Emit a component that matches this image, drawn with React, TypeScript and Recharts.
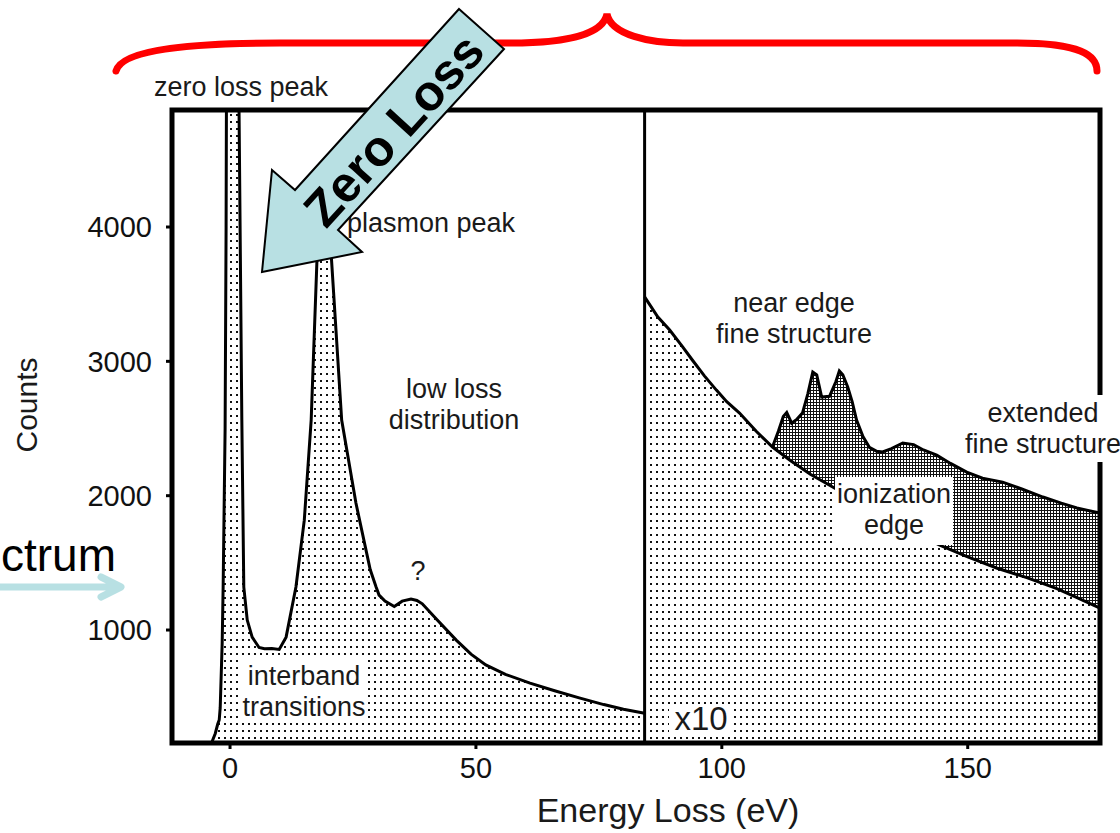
import React from "react";
import {
  ComposedChart,
  Area,
  XAxis,
  YAxis,
  ReferenceLine,
  ReferenceArea,
} from "recharts";

// low loss part (raw counts)
const lowLossEnergy = [
  -11.8, -6, -4, -3.7, -3, -2.5, -2.2, -2, -1.6, -1.4, -1, -0.8, -0.5, 0, 1.5,
  1.8, 2.4, 2.8, 3.5, 4.5, 5.9, 7, 8.5, 10, 11.4, 13.4, 15.1, 16.5, 17.7, 19.3,
  20.6, 22.7, 25.6, 28.5, 29.7, 30.3, 31.5, 33.4, 35, 36.8, 38, 39.1, 42, 46,
  49, 52, 56, 61, 66, 71, 76, 80, 84.3,
];
const lowLossCounts = [
  150, 150, 155, 165, 230, 300, 330, 420, 900, 1320, 2500, 4000, 8000, 12000,
  8000, 5000, 2563, 1320, 1074, 947, 870, 860, 862, 855, 947, 1320, 1818, 2563,
  3777, 4200, 3777, 2563, 1945, 1450, 1320, 1260, 1215, 1175, 1215, 1230, 1220,
  1195, 1080, 925, 820, 740, 670, 605, 548, 495, 445, 410, 381,
];

// x10 part: background under the edge
const backgroundEnergy = [
  84.3, 87, 89.4, 92, 94, 96.5, 98.9, 101, 103.6, 107, 110.3, 114, 118, 122.9,
  127, 132, 137, 144.3, 150, 156, 162, 168, 172, 176.9,
];
const backgroundCounts = [
  3480, 3330, 3233, 3110, 3010, 2890, 2786, 2700, 2615, 2480, 2362, 2260, 2160,
  2057, 1970, 1870, 1770, 1632, 1545, 1460, 1390, 1310, 1245, 1163,
];

// x10 part: ionization edge (total signal)
const edgeEnergy = [
  110.3, 111.5, 112.5, 113.2, 114.2, 115.3, 116.4, 117.5, 118.5, 119.3, 120.3,
  121.9, 123.2, 123.9, 124.6, 125.6, 126.5, 127.4, 128.7, 130, 131.5, 132.7,
  134.5, 136.8, 139, 141, 143.7, 146.5, 149.8, 153, 157.1, 161, 165.3, 169,
  172.2, 176.9,
];
const edgeCounts = [
  2362, 2480, 2590, 2620, 2540, 2570, 2615, 2760, 2920, 2900, 2734, 2740, 2850,
  2928, 2900, 2809, 2700, 2563, 2440, 2360, 2330, 2325, 2350, 2392, 2380, 2340,
  2302, 2240, 2176, 2130, 2101, 2050, 1990, 1945, 1908, 1870,
];

const xTicks = [0, 50, 100, 150];
const yTicks = [1000, 2000, 3000, 4000];
const xDomain = [-11.8, 176.9];
const yDomain = [159, 4871];
const splitAt = 84.3;

const toRows = (es: number[], cs: number[]) => es.map((e, i) => ({ e, c: cs[i] }));
const lowLoss = toRows(lowLossEnergy, lowLossCounts);
const background = toRows(backgroundEnergy, backgroundCounts);
const edge = toRows(edgeEnergy, edgeCounts);

const FONT = '"Liberation Sans", Arial, Helvetica, sans-serif';
const INK = "#1a1a1a";

const Note = ({ x, y, lines, size = 27 }: { x: number; y: number; lines: string[]; size?: number }) => (
  <text x={x} y={y} textAnchor="middle" fontSize={size} fill={INK} fontFamily={FONT}>
    {lines.map((l, i) => (
      <tspan key={i} x={x} dy={i === 0 ? 0 : 31}>
        {l}
      </tspan>
    ))}
  </text>
);

const App: React.FC = () => {
  return (
    <div
      style={{
        position: "absolute",
        left: 0,
        top: 0,
        width: 1120,
        height: 833,
        background: "#fff",
        fontFamily: FONT,
        overflow: "hidden",
      }}
    >
      <ComposedChart
        width={1120}
        height={833}
        margin={{ top: 110, right: 20, bottom: 0, left: 0 }}
      >
        <defs>
          <pattern id="dots" width="6" height="7" patternUnits="userSpaceOnUse">
            <rect width="6" height="7" fill="#fff" />
            <rect x="2" y="2" width="2" height="2" fill="#111" />
          </pattern>
          <pattern id="hatch" width="3" height="3" patternUnits="userSpaceOnUse">
            <rect width="3" height="3" fill="#111" />
            <rect x="1" y="1" width="2" height="2" fill="#fff" />
          </pattern>
        </defs>
        <XAxis
          dataKey="e"
          type="number"
          domain={xDomain}
          allowDataOverflow
          ticks={xTicks}
          height={90}
          axisLine={false}
          tickLine={{ stroke: "#000", strokeWidth: 3 }}
          tickSize={6}
          tickMargin={8}
          tick={{ fontSize: 29, fill: "#111", fontFamily: FONT }}
        />
        <YAxis
          type="number"
          domain={yDomain}
          allowDataOverflow
          ticks={yTicks}
          width={172}
          axisLine={false}
          tickLine={{ stroke: "#000", strokeWidth: 3 }}
          tickSize={6}
          tickMargin={14}
          tick={{ fontSize: 29, fill: "#111", fontFamily: FONT }}
        />
        <Area
          data={lowLoss}
          dataKey="c"
          type="linear"
          stroke="#000"
          strokeWidth={3}
          fill="url(#dots)"
          fillOpacity={1}
          dot={false}
          activeDot={false}
          isAnimationActive={false}
        />
        <Area
          data={edge}
          dataKey="c"
          type="linear"
          stroke="#000"
          strokeWidth={3}
          fill="url(#hatch)"
          fillOpacity={1}
          dot={false}
          activeDot={false}
          isAnimationActive={false}
        />
        <Area
          data={background}
          dataKey="c"
          type="linear"
          stroke="#000"
          strokeWidth={3}
          fill="url(#dots)"
          fillOpacity={1}
          dot={false}
          activeDot={false}
          isAnimationActive={false}
        />
        <ReferenceLine x={splitAt} stroke="#000" strokeWidth={3} />
        <ReferenceArea
          x1={xDomain[0]}
          x2={xDomain[1]}
          y1={yDomain[0]}
          y2={yDomain[1]}
          fill="none"
          fillOpacity={0}
          stroke="#000"
          strokeWidth={5}
        />
      </ComposedChart>

      <svg
        width={1120}
        height={833}
        style={{ position: "absolute", left: 0, top: 0, pointerEvents: "none" }}
      >
        {/* red brace */}
        <path
          d="M116,71 C122,48 200,43 280,43 L511,43 C565,43 603,35 607,14 C611,35 650,43 683,43 L1017,43 C1080,43 1097,55 1097,71"
          fill="none"
          stroke="#ff0000"
          strokeWidth={7}
          strokeLinecap="round"
        />

        {/* label boxes */}
        <rect x={241} y={656} width={127} height={66} fill="#fff" />
        <rect x={835} y={477} width={118} height={68} fill="#fff" />
        <rect x={963} y={395} width={157} height={67} fill="#fff" />
        <rect x={669} y={705} width={62} height={31} fill="#fff" />

        <Note x={241} y={96} lines={["zero loss peak"]} />
        <Note x={431} y={232} lines={["plasmon peak"]} />
        <Note x={454} y={398} lines={["low loss", "distribution"]} size={27} />
        <Note x={418} y={580} lines={["?"]} />
        <Note x={304} y={685} lines={["interband", "transitions"]} />
        <Note x={794} y={312} lines={["near edge", "fine structure"]} />
        <Note x={894} y={503} lines={["ionization", "edge"]} />
        <Note x={1043} y={422} lines={["extended", "fine structure"]} />
        <Note x={701} y={730} lines={["x10"]} size={33} />

        {/* Zero Loss block arrow */}
        <polygon
          points="459,9 504,49 338,230 362,252 262,272 272,170 295,190"
          fill="#b8e0e3"
          stroke="#000"
          strokeWidth={2}
        />
        <text
          x={394}
          y={130}
          transform="rotate(-47.6 394 130)"
          textAnchor="middle"
          dominantBaseline="central"
          fontSize={50}
          fontWeight="bold"
          fill="#000"
          fontFamily={FONT}
        >
          Zero Loss
        </text>

        {/* slide fragment on the left */}
        <text x={116} y={571} textAnchor="end" fontSize={46} fill="#000" fontFamily={FONT}>
          ctrum
        </text>
        <path
          d="M0,587 L120,587 M101,577 L121,587 L101,597"
          fill="none"
          stroke="#b8e0e3"
          strokeWidth={7}
          strokeLinecap="round"
          strokeLinejoin="round"
        />

        {/* axis titles */}
        <text
          x={26}
          y={405}
          transform="rotate(-90 26 405)"
          textAnchor="middle"
          dominantBaseline="central"
          fontSize={30}
          fill={INK}
          fontFamily={FONT}
        >
          Counts
        </text>
        <text x={668} y={822} textAnchor="middle" fontSize={34} fill={INK} fontFamily={FONT}>
          Energy Loss (eV)
        </text>
      </svg>
    </div>
  );
};

export default App;
